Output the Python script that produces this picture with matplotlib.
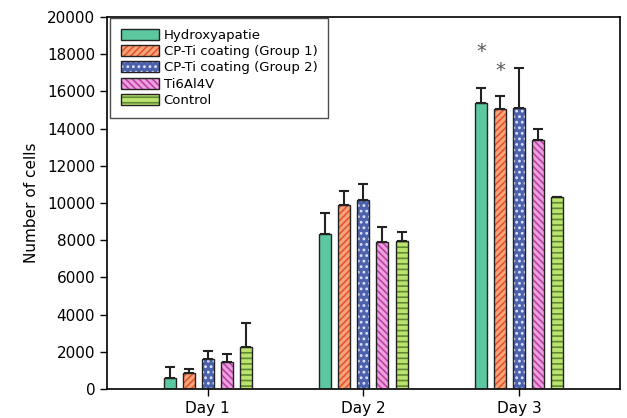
import numpy as np
import matplotlib.pyplot as plt
from matplotlib.legend_handler import HandlerTuple

# Cell counts per day (mean and upper error bar end)
days = ["Day 1", "Day 2", "Day 3"]
groups = ["Hydroxyapatie", "CP-Ti coating (Group 1)", "CP-Ti coating (Group 2)",
          "Ti6Al4V", "Control"]
hydroxy = [610, 8340, 15350]
hydroxy_up = [1200, 9470, 16210]
cpti1 = [880, 9880, 15080]
cpti1_up = [1060, 10640, 15730]
cpti2 = [1620, 10150, 15090]
cpti2_up = [2050, 11000, 17250]
ti6al4v = [1470, 7910, 13390]
ti6al4v_up = [1870, 8700, 13960]
control = [2280, 7980, 10330]
control_up = [3540, 8450, 10330]

# significance markers: (day index, group index, height)
stars = [(2, 0, 18150), (2, 1, 17150)]

means = [hydroxy, cpti1, cpti2, ti6al4v, control]
uppers = [hydroxy_up, cpti1_up, cpti2_up, ti6al4v_up, control_up]

faces = ["#5cc8a0", "#f7a47c", "#4d62ad", "#eaa2dc", "#bce36e"]
hatch_cols = ["#5cc8a0", "#e4562a", "#dfe5ff", "#c23fa9", "#5f8a35"]
hatches = [None, "/////", "...", "\\\\\\\\\\", "---"]

plt.rcParams["font.family"] = "DejaVu Sans"
plt.rcParams["hatch.linewidth"] = 1.2

fig = plt.figure(figsize=(6.27, 4.18), dpi=100)
ax = fig.add_axes([0.1707, 0.0694, 0.818, 0.8899])

x = np.arange(1, len(days) + 1)
step = 0.122
width = 0.077

handles = []
for i in range(len(groups)):
    pos = x + (i - 2) * step
    fill = ax.bar(pos, means[i], width, color=faces[i], edgecolor=hatch_cols[i],
                  hatch=hatches[i], linewidth=0, zorder=2)
    outline = ax.bar(pos, means[i], width, fill=False, edgecolor="#222222",
                     linewidth=1.0, zorder=3)
    err = np.array(uppers[i]) - np.array(means[i])
    ax.errorbar(pos, means[i], yerr=[np.zeros_like(err), err], fmt="none",
                ecolor="#222222", elinewidth=1.5, capsize=3.5, capthick=1.5,
                zorder=4)
    handles.append((fill[0], outline[0]))

for d, g, yv in stars:
    ax.text(x[d] + (g - 2) * step, yv, "*", ha="center", va="center",
            fontsize=14, color="#555555")

ax.set_xlim(0.355, 3.645)
ax.set_ylim(0, 20000)
ax.set_yticks(np.arange(0, 20001, 2000))
ax.set_xticks(x)
ax.set_xticklabels(days)
ax.tick_params(direction="out", length=5, width=1, labelsize=11)
ax.set_ylabel("Number of cells", fontsize=11, labelpad=6)
for s in ax.spines.values():
    s.set_linewidth(1.2)

ax.legend(handles, groups, handler_map={tuple: HandlerTuple(ndivide=1)},
          loc="upper left", bbox_to_anchor=(0.006, 0.997), fontsize=9.5,
          frameon=True, fancybox=False, edgecolor="#222222",
          handlelength=2.9, handleheight=0.9, labelspacing=0.25,
          handletextpad=0.35, borderpad=0.8, borderaxespad=0)

fig.savefig("out.png", dpi=100)
